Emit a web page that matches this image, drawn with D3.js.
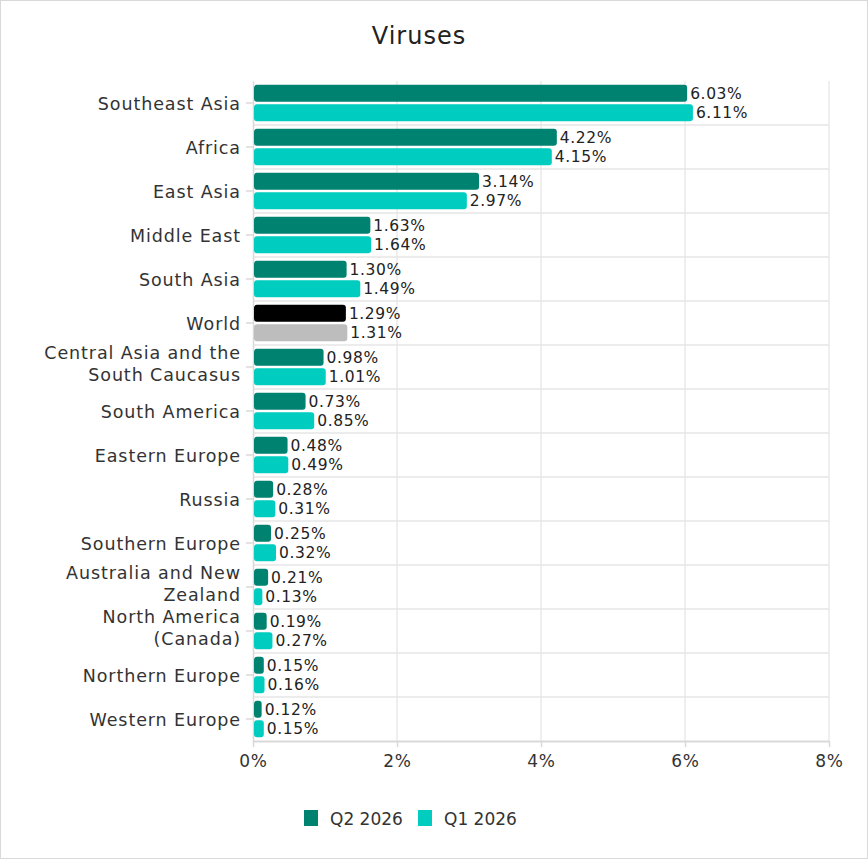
<!DOCTYPE html>
<html>
<head>
<meta charset="utf-8">
<script src="https://cdn.jsdelivr.net/npm/d3@7"></script>
<style>
  body { margin: 0; background: #fff; }
  svg { display: block; font-family: "DejaVu Sans", sans-serif; }
</style>
</head>
<body>
<svg id="chart" width="868" height="859"></svg>
<script>
// chart data
var regions = ["Southeast Asia", "Africa", "East Asia", "Middle East", "South Asia", "World",
  "Central Asia and the South Caucasus", "South America", "Eastern Europe", "Russia",
  "Southern Europe", "Australia and New Zealand", "North America (Canada)",
  "Northern Europe", "Western Europe"];
var q2 = [6.03, 4.22, 3.14, 1.63, 1.30, 1.29, 0.98, 0.73, 0.48, 0.28, 0.25, 0.21, 0.19, 0.15, 0.12];
var q1 = [6.11, 4.15, 2.97, 1.64, 1.49, 1.31, 1.01, 0.85, 0.49, 0.31, 0.32, 0.13, 0.27, 0.16, 0.15];
var seriesNames = ["Q2 2026", "Q1 2026"];
var xTicks = [0, 2, 4, 6, 8];

// label line breaks as in the picture
var labelLines = {
  "Central Asia and the South Caucasus": ["Central Asia and the", "South Caucasus"],
  "Australia and New Zealand": ["Australia and New", "Zealand"],
  "North America (Canada)": ["North America", "(Canada)"]
};

var colors = { q2: "#008270", q1: "#00ccc0", worldQ2: "#000000", worldQ1: "#bdbdbd" };

var svg = d3.select("#chart");
var W = 868, H = 859;
var m = { left: 253, right: 39, top: 81, bottom: 118 };

// outer border
svg.append("rect").attr("x", 0.5).attr("y", 0.5).attr("width", W - 1).attr("height", H - 1)
  .attr("fill", "#fff").attr("stroke", "#d9d9d9");

var x = d3.scaleLinear().domain([0, 8]).range([m.left, W - m.right]);
var y = d3.scaleBand().domain(regions).range([m.top, H - m.bottom]);
var inner = d3.scaleBand().domain(["q2", "q1"]).range([0, y.bandwidth()]).paddingInner(0.12).paddingOuter(0.2);

// title
svg.append("text").attr("x", 419).attr("y", 44).attr("text-anchor", "middle")
  .attr("font-size", 24).attr("letter-spacing", 1).attr("fill", "#222").text("Viruses");

// vertical gridlines
svg.append("g").selectAll("line").data(xTicks.slice(1)).enter().append("line")
  .attr("x1", function(d){ return x(d); }).attr("x2", function(d){ return x(d); })
  .attr("y1", m.top).attr("y2", H - m.bottom)
  .attr("stroke", "#e6e6e6").attr("stroke-width", 1.3);

// horizontal separators between categories
svg.append("g").selectAll("line").data(regions.slice(1)).enter().append("line")
  .attr("x1", m.left).attr("x2", W - m.right)
  .attr("y1", function(d){ return y(d); }).attr("y2", function(d){ return y(d); })
  .attr("stroke", "#e6e6e6").attr("stroke-width", 1.3);

// x axis
var xAxis = svg.append("g").attr("transform", "translate(0," + (H - m.bottom) + ")")
  .call(d3.axisBottom(x).tickValues(xTicks).tickSizeInner(6).tickSizeOuter(0).tickPadding(8)
    .tickFormat(function(d){ return d + "%"; }));
xAxis.select(".domain").attr("stroke", "#d9d9d9").attr("stroke-width", 2);
xAxis.selectAll(".tick line").attr("stroke", "#d9d9d9").attr("stroke-width", 1.5);
xAxis.selectAll("text").attr("font-size", 17).attr("letter-spacing", 0.8).attr("fill", "#333")
  .attr("font-family", "DejaVu Sans, sans-serif");

// y axis
var yAxis = svg.append("g").attr("transform", "translate(" + m.left + ",0)")
  .call(d3.axisLeft(y).tickSizeInner(7).tickSizeOuter(0).tickFormat(""));
yAxis.select(".domain").attr("stroke", "#d9d9d9").attr("stroke-width", 1.5);
yAxis.selectAll(".tick line").attr("stroke", "#d9d9d9").attr("stroke-width", 1.5);

// category labels
var lab = svg.append("g").selectAll("text").data(regions).enter().append("text")
  .attr("x", m.left - 12)
  .attr("y", function(d){ return y(d) + y.bandwidth() / 2; })
  .attr("text-anchor", "end").attr("font-size", 17.5).attr("letter-spacing", 0.9).attr("fill", "#333");
lab.each(function(d){
  var lines = labelLines[d] || [d];
  var t = d3.select(this);
  lines.forEach(function(l, i){
    var dy = lines.length === 1 ? 6.5 : (i === 0 ? -8.5 : 22.5);
    t.append("tspan").attr("x", m.left - 12).attr("dy", dy).text(l);
  });
});

// bars
var rows = regions.map(function(r, i){
  return [
    { region: r, key: "q2", v: q2[i], c: r === "World" ? colors.worldQ2 : colors.q2 },
    { region: r, key: "q1", v: q1[i], c: r === "World" ? colors.worldQ1 : colors.q1 }
  ];
});
var bars = d3.merge(rows);

svg.append("g").selectAll("rect").data(bars).enter().append("rect")
  .attr("x", x(0) + 1)
  .attr("y", function(d){ return y(d.region) + inner(d.key); })
  .attr("width", function(d){ return x(d.v) - x(0) - 1; })
  .attr("height", inner.bandwidth())
  .attr("rx", 3).attr("fill", function(d){ return d.c; });

svg.append("g").selectAll("text").data(bars).enter().append("text")
  .attr("x", function(d){ return x(d.v) + 3; })
  .attr("y", function(d){ return y(d.region) + inner(d.key) + inner.bandwidth() / 2 + 5.5; })
  .attr("font-size", 15.5).attr("letter-spacing", 0.6).attr("fill", "#222")
  .text(function(d){ return d.v.toFixed(2) + "%"; });

// legend
var legend = svg.append("g").attr("transform", "translate(304,810)");
var lx = [0, 114];
seriesNames.forEach(function(n, i){
  var g = legend.append("g").attr("transform", "translate(" + lx[i] + ",0)");
  g.append("rect").attr("width", 14).attr("height", 16).attr("fill", i === 0 ? colors.q2 : colors.q1);
  g.append("text").attr("x", 26).attr("y", 15).attr("font-size", 17).attr("fill", "#333").text(n);
});
</script>
</body>
</html>
